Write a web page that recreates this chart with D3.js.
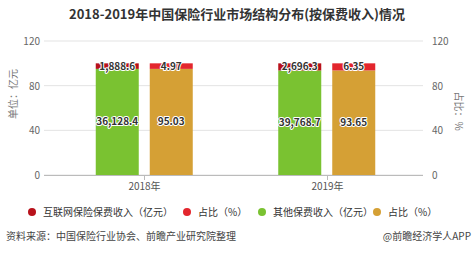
<!DOCTYPE html>
<html><head><meta charset="utf-8">
<script src="https://cdn.jsdelivr.net/npm/d3@7"></script>
<style>body{margin:0;background:#fff;}svg{display:block;font-family:"Noto Sans CJK SC","Noto Sans",sans-serif;}</style>
</head><body><svg id="c" width="474" height="253"></svg>
<script>
const categories = ["2018年", "2019年"];
const internetPremium = [1888.6, 2696.3];
const otherPremium = [36128.4, 39768.7];
const internetShare = [4.97, 6.35];
const otherShare = [95.03, 93.65];
const yTicks = [0, 40, 80, 120];
const legendNames = ["互联网保险保费收入（亿元）", "占比（%）", "其他保费收入（亿元）", "占比（%）"];
const colors = ["#b8121b", "#e3262d", "#7ac231", "#d5a035"];

const svg = d3.select("#c");
const fmt = d3.format(",.1f");

svg.append("text").attr("x", 237).attr("y", 19).attr("text-anchor", "middle")
  .attr("font-size", 13).attr("font-weight", "bold").attr("fill", "#333")
  .text("2018-2019年中国保险行业市场结构分布(按保费收入)情况");

const y = d3.scaleLinear().domain([0, 120]).range([175, 41]);
const x = d3.scaleBand().domain(categories).range([53, 418]);
const gridL = 44, gridR = 423;

svg.append("g").selectAll("line").data(yTicks).join("line")
  .attr("x1", gridL).attr("x2", gridR).attr("y1", d => y(d)).attr("y2", d => y(d))
  .attr("stroke", "#e3e3e3").attr("stroke-width", 1);

svg.append("g").selectAll("text").data(yTicks).join("text")
  .attr("x", 40).attr("y", d => y(d) + 4).attr("text-anchor", "end")
  .attr("font-size", 10).attr("fill", "#666").text(d => d);
svg.append("g").selectAll("text").data(yTicks).join("text")
  .attr("x", 432).attr("y", d => y(d) + 4).attr("text-anchor", "start")
  .attr("font-size", 10).attr("fill", "#666").text(d => d);

svg.append("text").attr("transform", "translate(17,94) rotate(-90)").attr("text-anchor", "middle")
  .attr("font-size", 10).attr("fill", "#777").text("单位：亿元");
svg.append("text").attr("transform", "translate(455,111) rotate(90)").attr("text-anchor", "middle")
  .attr("font-size", 10).attr("fill", "#777").text("占比：%");

const bw = 43, gap = 11;
categories.forEach((c, i) => {
  const cx = x(c) + x.bandwidth() / 2;
  const total = internetPremium[i] + otherPremium[i];
  const pOther = otherPremium[i] / total * 100;
  const pNet = internetPremium[i] / total * 100;
  const stacks = [
    {x0: cx - gap / 2 - bw, segs: [
      {v0: 0, v1: pOther, col: colors[2], label: fmt(otherPremium[i])},
      {v0: pOther, v1: pOther + pNet, col: colors[0], label: fmt(internetPremium[i])}
    ]},
    {x0: cx + gap / 2, segs: [
      {v0: 0, v1: otherShare[i], col: colors[3], label: d3.format(".2f")(otherShare[i])},
      {v0: otherShare[i], v1: otherShare[i] + internetShare[i], col: colors[1], label: d3.format(".2f")(internetShare[i])}
    ]}
  ];
  stacks.forEach(s => {
    s.segs.forEach(sg => {
      svg.append("rect").attr("x", s.x0).attr("width", bw)
        .attr("y", y(sg.v1)).attr("height", y(sg.v0) - y(sg.v1)).attr("fill", sg.col);
    });
    s.segs.forEach(sg => {
      const ly = (y(sg.v0) + y(sg.v1)) / 2 + 3.5;
      svg.append("text").attr("x", s.x0 + bw / 2).attr("y", ly).attr("text-anchor", "middle")
        .attr("font-size", 10).attr("font-weight", "bold").attr("fill", "#333")
        .attr("stroke", "#fff").attr("stroke-width", 2).attr("paint-order", "stroke")
        .attr("stroke-linejoin", "round").text(sg.label);
    });
  });
});

svg.append("line").attr("x1", gridL).attr("x2", gridR).attr("y1", 175.5).attr("y2", 175.5)
  .attr("stroke", "#bbb");
categories.forEach(c => {
  const cx = Math.round(x(c) + x.bandwidth() / 2) + 0.5;
  svg.append("line").attr("x1", cx).attr("x2", cx).attr("y1", 175).attr("y2", 180).attr("stroke", "#bbb");
  svg.append("text").attr("x", cx).attr("y", 190).attr("text-anchor", "middle")
    .attr("font-size", 10).attr("fill", "#555").text(c);
});

const legX = [32, 187, 262, 377];
legendNames.forEach((n, i) => {
  svg.append("circle").attr("cx", legX[i]).attr("cy", 212).attr("r", 4).attr("fill", colors[i]);
  svg.append("text").attr("x", legX[i] + 11).attr("y", 215.5).attr("font-size", 10)
    .attr("fill", "#333").text(n);
});

svg.append("text").attr("x", 6).attr("y", 240).attr("font-size", 10).attr("fill", "#444")
  .text("资料来源：中国保险行业协会、前瞻产业研究院整理");
svg.append("text").attr("x", 471).attr("y", 240).attr("text-anchor", "end").attr("font-size", 10)
  .attr("fill", "#444").text("@前瞻经济学人APP");
</script></body></html>
